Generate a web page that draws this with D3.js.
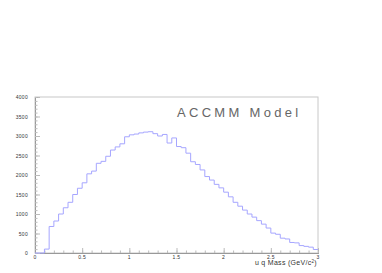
<!DOCTYPE html>
<html>
<head>
<meta charset="utf-8">
<script src="https://cdn.jsdelivr.net/npm/d3@7"></script>
<style>
  body { margin: 0; background: #fff; }
  text { font-family: "Liberation Sans", Arial, sans-serif; }
</style>
</head>
<body>
<div id="chart"></div>
<script>
// histogram bins, width 0.05 GeV
var binEdges = d3.range(0, 60).map(function (i) { return +(i * 0.05).toFixed(2); });
var counts = [
  0, 0, 100, 680, 820, 1000, 1160, 1300, 1500, 1660,
  1800, 2030, 2100, 2300, 2350, 2480, 2640, 2720, 2800, 2980,
  3030, 3050, 3080, 3100, 3110, 3060, 3000, 3040, 2820, 2950,
  2730, 2700, 2560, 2340, 2270, 2130, 1960, 1870, 1760, 1670,
  1560, 1440, 1300, 1200, 1100, 1000, 920, 830, 740, 640,
  510, 480, 380, 360, 270, 260, 190, 170, 150, 90
];
var xTicks = [0, 0.5, 1, 1.5, 2, 2.5, 3];
var yTicks = [0, 500, 1000, 1500, 2000, 2500, 3000, 3500, 4000];

var width = 382, height = 273;
var padL = 35, padR = 318, padT = 97, padB = 253;

var svg = d3.select('#chart')
    .append('svg')
    .attr('width', width)
    .attr('height', height);

var x = d3.scaleLinear().domain([0, 3]).range([padL, padR]);
var y = d3.scaleLinear().domain([0, 4000]).range([padB, padT]);

// frame
svg.append('rect')
    .attr('x', padL).attr('y', padT)
    .attr('width', padR - padL).attr('height', padB - padT)
    .attr('fill', 'none')
    .attr('stroke', '#c8c8c8')
    .attr('stroke-width', 1);

// x axis
var xAxis = svg.append('g')
    .attr('transform', 'translate(0,' + padB + ')')
    .call(d3.axisTop(x).tickValues(xTicks).tickSize(5).tickFormat(''));
var xMinor = svg.append('g')
    .attr('transform', 'translate(0,' + padB + ')')
    .call(d3.axisTop(x).tickValues(d3.range(0, 3.01, 0.1)).tickSize(2.5).tickFormat(''));

// y axis
var yAxis = svg.append('g')
    .attr('transform', 'translate(' + padL + ',0)')
    .call(d3.axisRight(y).tickValues(yTicks).tickSize(5).tickFormat(''));
var yMinor = svg.append('g')
    .attr('transform', 'translate(' + padL + ',0)')
    .call(d3.axisRight(y).tickValues(d3.range(0, 4001, 100)).tickSize(2.5).tickFormat(''));

[xAxis, xMinor, yAxis, yMinor].forEach(function (g) {
  g.select('.domain').attr('stroke', '#999');
  g.selectAll('.tick line').attr('stroke', '#bbb');
});

// tick labels
svg.selectAll('.xlab')
    .data(xTicks)
    .join('text')
    .attr('x', d => x(d))
    .attr('y', padB + 6)
    .attr('text-anchor', 'middle')
    .attr('font-size', 5)
    .attr('letter-spacing', 0.3)
    .attr('fill', '#333')
    .text(d => d);

svg.selectAll('.ylab')
    .data(yTicks)
    .join('text')
    .attr('x', 28)
    .attr('y', d => y(d) + 2)
    .attr('text-anchor', 'end')
    .attr('font-size', 5)
    .attr('letter-spacing', 0.3)
    .attr('fill', '#333')
    .text(d => d);

// histogram outline
var pts = [[x(0), y(0)]];
counts.forEach(function (c, i) {
  pts.push([x(binEdges[i]), y(c)]);
  pts.push([x(binEdges[i] + 0.05), y(c)]);
});
svg.append('path')
    .attr('d', d3.line()(pts))
    .attr('fill', 'none')
    .attr('stroke', '#a6a6ff')
    .attr('stroke-width', 1);

// labels
svg.append('text')
    .attr('x', 317)
    .attr('y', 265)
    .attr('text-anchor', 'end')
    .attr('font-size', 7)
    .attr('letter-spacing', 0.3)
    .attr('fill', '#333')
    .html('u q Mass (GeV/c<tspan dy="-2.5" font-size="4.5">2</tspan><tspan dy="2.5">)</tspan>');

svg.append('text')
    .attr('x', 177)
    .attr('y', 117)
    .attr('font-size', 13)
    .attr('letter-spacing', 3.3)
    .attr('fill', '#666')
    .text('ACCMM Model');
</script>
</body>
</html>
